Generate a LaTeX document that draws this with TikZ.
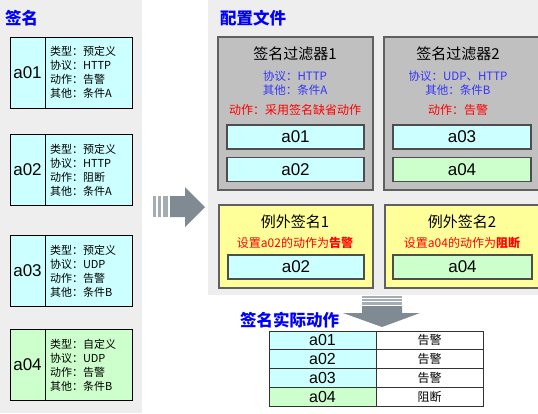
\documentclass[tikz,border=0pt]{standalone}
\usepackage{fontspec}
\setmainfont{Noto Sans CJK SC}
\newfontfamily\arialish{Liberation Sans}
\definecolor{panel}{HTML}{EEEEEE}
\definecolor{sigcyan}{HTML}{CCFFFF}
\definecolor{siggreen}{HTML}{CCFFCC}
\definecolor{excyellow}{HTML}{FFFF99}
\definecolor{filtgray}{HTML}{C0C0C0}
\definecolor{filtborder}{HTML}{606060}
\definecolor{titleblue}{HTML}{0000FF}
\definecolor{infoblue}{HTML}{3333FF}
\definecolor{arrowbody}{HTML}{808A92}
\definecolor{arrowstripe}{HTML}{A4ACB4}
\tikzset{
  sigleft/.style={draw=black, line width=0.8pt, minimum width=35pt, minimum height=71pt, inner sep=0pt, font=\arialish\fontsize{17}{17}\selectfont},
  sigright/.style={draw=black, line width=0.8pt, minimum width=87pt, minimum height=71pt, text width=77pt, inner xsep=5pt, inner ysep=0pt, align=left, font=\fontsize{11}{14}\selectfont},
  paneltitle/.style={text=titleblue, font=\fontsize{16.5}{17}\selectfont\bfseries, inner sep=0pt},
  filterbox/.style={draw=filtborder, fill=filtgray, line width=1.2pt, inner sep=0pt},
  excbox/.style={draw=filtborder, fill=excyellow, line width=1.2pt, inner sep=0pt},
  innerbox/.style={draw=filtborder!80!black, line width=1.1pt, minimum height=24pt, inner sep=0pt, font=\arialish\fontsize{17}{17}\selectfont},
  boxtitle/.style={font=\fontsize{15}{15}\selectfont, inner sep=0pt},
  infotext/.style={text=infoblue, font=\fontsize{11.5}{14}\selectfont, inner sep=0pt, align=center},
  redtext/.style={text=red, font=\fontsize{12}{14}\selectfont, inner sep=0pt},
  cell/.style={draw=black!80, line width=0.8pt, minimum width=107pt, minimum height=18.75pt, inner sep=0pt},
}
\begin{document}
\begin{tikzpicture}[x=1pt,y=-1pt]
\useasboundingbox (0,0) rectangle (538,413);
\clip (0,0) rectangle (538,413);
\fill[white] (0,0) rectangle (538,413);
% panels
\fill[panel] (0,0) rectangle (142,413);
\fill[panel] (208,0) rectangle (538,295);
% left title
\node[paneltitle, anchor=west] (t1) at (5,18) {签名};
% signatures
\node[sigleft, fill=sigcyan] (s1l) at (27.5,72.5) {a01};
\node[sigright, fill=sigcyan] (s1r) at (88.5,72.5) {类型：预定义\\协议：HTTP\\动作：告警\\其他：条件A};
\node[sigleft, fill=sigcyan] (s2l) at (27.5,170) {a02};
\node[sigright, fill=sigcyan] (s2r) at (88.5,170) {类型：预定义\\协议：HTTP\\动作：阻断\\其他：条件A};
\node[sigleft, fill=sigcyan] (s3l) at (27.5,271) {a03};
\node[sigright, fill=sigcyan] (s3r) at (88.5,271) {类型：预定义\\协议：UDP\\动作：告警\\其他：条件B};
\node[sigleft, fill=siggreen] (s4l) at (27.5,365) {a04};
\node[sigright, fill=siggreen] (s4r) at (88.5,365) {类型：自定义\\协议：UDP\\动作：告警\\其他：条件B};
% right arrow
\fill[arrowstripe] (153,196) rectangle (155.5,217);
\fill[arrowstripe] (157.5,196) rectangle (160.5,217);
\fill[arrowstripe] (162.5,196) rectangle (168,217);
\fill[arrowbody] (170,196) -- (185,196) -- (185,187) -- (205,207) -- (185,227) -- (185,217) -- (170,217) -- cycle;
% right title
\node[paneltitle, anchor=west] (t2) at (220,18) {配置文件};
% filter 1
\node[filterbox, minimum width=155pt, minimum height=153pt] (f1) at (295.5,113.5) {};
\node[boxtitle] (f1t) at (295,54) {签名过滤器1};
\node[infotext] (f1i) at (295,83) {协议：HTTP\\其他：条件A};
\node[redtext] (f1r) at (295,110) {动作：采用签名缺省动作};
\node[innerbox, fill=sigcyan, minimum width=137pt] (f1a) at (295.5,137) {a01};
\node[innerbox, fill=sigcyan, minimum width=137pt] (f1b) at (295.5,169.5) {a02};
% filter 2
\node[filterbox, minimum width=161pt, minimum height=153pt] (f2) at (464.5,113.5) {};
\node[boxtitle] (f2t) at (458,54) {签名过滤器2};
\node[infotext] (f2i) at (458,83) {协议：UDP、HTTP\\其他：条件B};
\node[redtext] (f2r) at (458,110) {动作：告警};
\node[innerbox, fill=sigcyan, minimum width=138pt] (f2a) at (462,137) {a03};
\node[innerbox, fill=siggreen, minimum width=138pt] (f2b) at (462,169.5) {a04};
% exceptions
\node[excbox, minimum width=154pt, minimum height=83pt] (e1) at (296,246.5) {};
\node[boxtitle] (e1t) at (295,222) {例外签名1};
\node[redtext] (e1r) at (295,243) {设置a02的动作为\textbf{告警}};
\node[innerbox, fill=sigcyan, minimum width=136pt] (e1a) at (296,267) {a02};
\node[excbox, minimum width=160pt, minimum height=83pt] (e2) at (465,246.5) {};
\node[boxtitle] (e2t) at (462,222) {例外签名2};
\node[redtext] (e2r) at (462,243) {设置a04的动作为\textbf{阻断}};
\node[innerbox, fill=siggreen, minimum width=139pt] (e2a) at (462.5,267) {a04};
% down arrow
\fill[arrowstripe] (362,296) rectangle (402,297.5);
\fill[arrowstripe] (362,298.7) rectangle (402,300.5);
\fill[arrowstripe] (362,301.7) rectangle (402,304.5);
\fill[arrowbody] (362,306) -- (402,306) -- (402,313) -- (420,313) -- (382,327) -- (343,313) -- (362,313) -- cycle;
% result title
\node[paneltitle, anchor=west] (t3) at (240,320) {签名实际动作};
% table
\node[cell, fill=sigcyan, font=\arialish\fontsize{16}{16}\selectfont] (r1a) at (322.5,340.4) {a01};
\node[cell, fill=white, font=\fontsize{12}{12}\selectfont] (r1b) at (429.5,340.4) {告警};
\node[cell, fill=sigcyan, font=\arialish\fontsize{16}{16}\selectfont] (r2a) at (322.5,359.1) {a02};
\node[cell, fill=white, font=\fontsize{12}{12}\selectfont] (r2b) at (429.5,359.1) {告警};
\node[cell, fill=sigcyan, font=\arialish\fontsize{16}{16}\selectfont] (r3a) at (322.5,377.9) {a03};
\node[cell, fill=white, font=\fontsize{12}{12}\selectfont] (r3b) at (429.5,377.9) {告警};
\node[cell, fill=siggreen, font=\arialish\fontsize{16}{16}\selectfont] (r4a) at (322.5,396.6) {a04};
\node[cell, fill=white, font=\fontsize{12}{12}\selectfont] (r4b) at (429.5,396.6) {阻断};
\end{tikzpicture}
\end{document}
